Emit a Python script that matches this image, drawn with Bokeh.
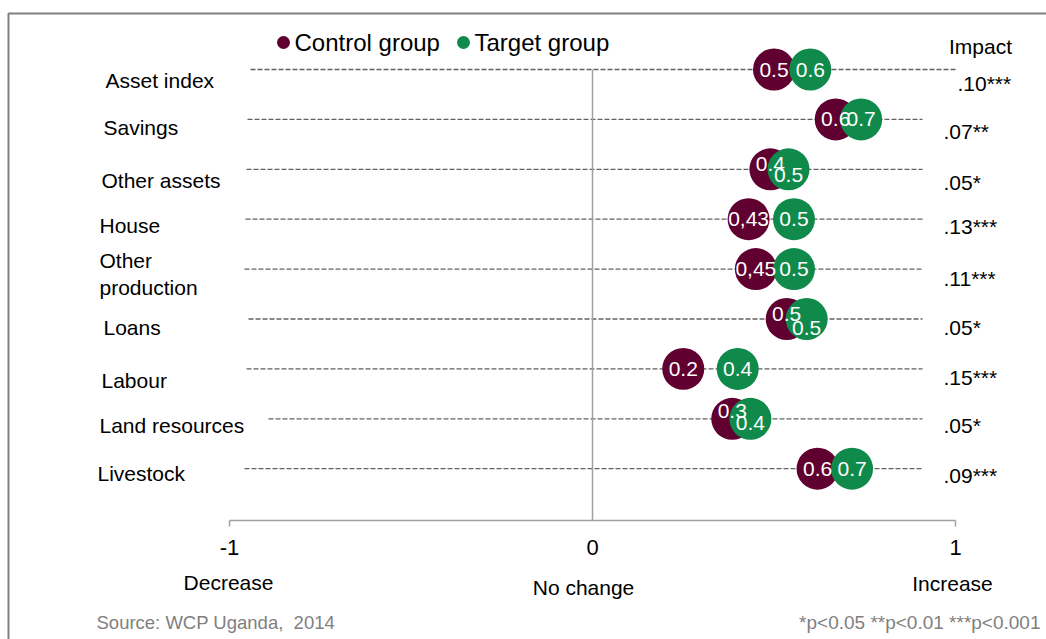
from bokeh.plotting import figure
from bokeh.models import ColumnDataSource, Range1d
from bokeh.core.properties import value
from bokeh.embed import file_html
from bokeh.resources import INLINE

# ---------------- data ----------------
categories = ["Asset index", "Savings", "Other assets", "House", "Other\nproduction",
              "Loans", "Labour", "Land resources", "Livestock"]
control = [0.50, 0.67, 0.49, 0.43, 0.45, 0.535, 0.25, 0.385, 0.62]
target = [0.60, 0.74, 0.54, 0.555, 0.555, 0.59, 0.40, 0.435, 0.715]
control_labels = ["0.5", "0.6", "0.4", "0,43", "0,45", "0.5", "0.2", "0.3", "0.6"]
target_labels = ["0.6", "0.7", "0.5", "0.5", "0.5", "0.5", "0.4", "0.4", "0.7"]
impact = [".10***", ".07**", ".05*", ".13***", ".11***", ".05*", ".15***", ".05*", ".09***"]
tick_values = [-1, 0, 1]
tick_labels = ["-1", "0", "1"]
scale_labels = ["Decrease", "No change", "Increase"]
series_names = ["Control group", "Target group"]

# ---------------- style ----------------
MAROON = "#600030"
GREEN = "#0f8a4b"
GRAY = "#808080"
FONT = value("Liberation Sans")
W, H = 1046, 639

def xv(px):  # picture pixel -> data x
    return (px - 592) / 363.0

def yv(py):  # picture pixel -> data y (row index)
    return (py - 69) / 49.9

rows = list(range(len(categories)))
control_dy = [0, 0, -5, 0, 0, -5, 0, -8, 0]
target_dy = [0, 0, 6, 0, 0, 9, 0, 4, 0]
line_start = [xv(250), xv(247), xv(246), xv(245), xv(244), xv(248), xv(246), xv(268), xv(244)]
line_end = [xv(955)] + [xv(922)] * 8
label_x = [xv(105), xv(103), xv(101), xv(99), xv(99), xv(103), xv(101), xv(99), xv(97)]
label_dy = [11, 8, 11, 6, 5, 8, 12, 7, 5]
impact_x = [xv(957)] + [xv(943)] * 8
impact_dy = [14, 12, 13, 7, 9, 8, 9, 7, 7]

p = figure(width=W, height=H, output_backend="svg", toolbar_location=None,
           x_range=Range1d(xv(0), xv(W)), y_range=Range1d(yv(H), yv(0)),
           x_axis_type=None, y_axis_type=None, min_border=0,
           outline_line_color=None, background_fill_color="white",
           border_fill_color="white")

# outer frame
p.quad(left=[xv(8)], right=[xv(1200)], top=[yv(13)], bottom=[yv(800)],
       fill_alpha=0, line_color=GRAY, line_width=2)

# dashed row lines
p.segment(x0=line_start, x1=line_end, y0=rows, y1=rows,
          line_color="#626262", line_width=1.3, line_dash="5 2")

# zero line and x axis
p.segment(x0=[0], x1=[0], y0=[0], y1=[yv(520)], line_color="#a0a0a0", line_width=1.5)
p.segment(x0=[tick_values[0]], x1=[tick_values[-1]], y0=[yv(520)], y1=[yv(520)],
          line_color="#a0a0a0", line_width=1.5)
p.segment(x0=[tick_values[0], tick_values[-1]], x1=[tick_values[0], tick_values[-1]],
          y0=[yv(520)] * 2, y1=[yv(526)] * 2, line_color="#a0a0a0", line_width=1.5)
p.text(x=tick_values, y=[yv(547)] * 3, text=tick_labels, text_font=FONT,
       text_font_size="22px", text_align="center", text_baseline="middle", text_color="black")
p.text(x=tick_values, y=[yv(582), yv(587), yv(583)], text=scale_labels, x_offset=[-1, -9, -3],
       text_font=FONT, text_font_size="21px", text_align="center", text_baseline="middle",
       text_color="black")

# category labels
p.text(x=label_x, y=rows, y_offset=label_dy, text=categories, text_font=FONT,
       text_font_size="21px", text_align="left", text_baseline="middle", text_color="black",
       text_line_height=1.15)

# impact labels
p.text(x=impact_x, y=rows, y_offset=impact_dy, text=impact, text_font=FONT,
       text_font_size="21px", text_align="left", text_baseline="middle", text_color="black")
p.text(x=[xv(980)], y=[yv(46)], text=["Impact"], text_font=FONT, text_font_size="21px",
       text_align="center", text_baseline="middle", text_color="black")

# dots (circles first, then all value labels on top)
src_c = ColumnDataSource(dict(x=control, y=rows, t=control_labels, dy=control_dy))
src_t = ColumnDataSource(dict(x=target, y=rows, t=target_labels, dy=target_dy))
p.scatter(x="x", y="y", source=src_c, size=42, marker="circle", fill_color=MAROON, line_color=None)
p.scatter(x="x", y="y", source=src_t, size=42, marker="circle", fill_color=GREEN, line_color=None)
p.text(x="x", y="y", text="t", y_offset="dy", source=src_c, text_font=FONT, text_font_size="21px",
       text_align="center", text_baseline="middle", text_color="white")
p.text(x="x", y="y", text="t", y_offset="dy", source=src_t, text_font=FONT, text_font_size="21px",
       text_align="center", text_baseline="middle", text_color="white")

# legend
p.scatter(x=[xv(283), xv(463)], y=[yv(42)] * 2, size=13, marker="circle",
          fill_color=[MAROON, GREEN], line_color=None)
p.text(x=[xv(294), xv(474)], y=[yv(42)] * 2, text=series_names, text_font=FONT,
       text_font_size="24px", text_align="left", text_baseline="middle", text_color="black")

# footer
p.text(x=[xv(96)], y=[yv(622)], text=["Source: WCP Uganda,\u00a0\u00a02014"], text_font=FONT,
       text_font_size="18.5px", text_align="left", text_baseline="middle", text_color=GRAY)
p.text(x=[xv(1040)], y=[yv(622)], text=["*p<0.05 **p<0.01 ***p<0.001"], text_font=FONT,
       text_font_size="19px", text_align="right", text_baseline="middle", text_color=GRAY)

open("out.html", "w").write(file_html(p, INLINE))
